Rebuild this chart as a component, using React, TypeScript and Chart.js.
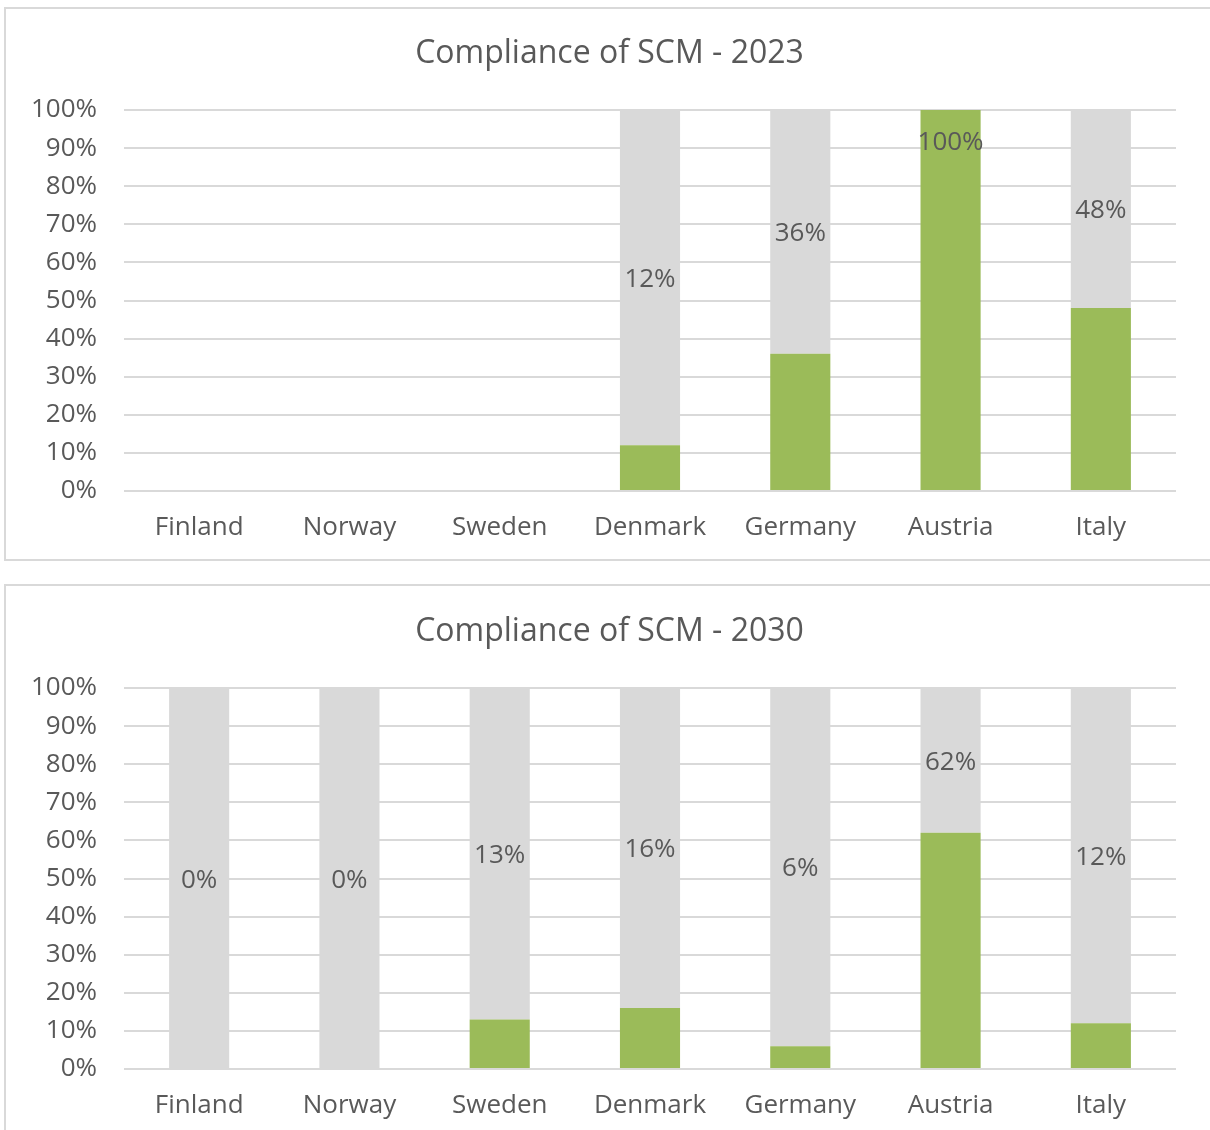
import React, { useEffect, useRef } from "react";
import { Chart, registerables } from "chart.js";

Chart.register(...registerables);

const categories = ["Finland", "Norway", "Sweden", "Denmark", "Germany", "Austria", "Italy"];
const compliance2023: (number | null)[] = [null, null, null, 12, 36, 100, 48];
const compliance2030: (number | null)[] = [0, 0, 13, 16, 6, 62, 12];
const yTicks = [0, 10, 20, 30, 40, 50, 60, 70, 80, 90, 100];

const GREEN = "#9BBB59";
const GRAY = "#D9D9D9";
const TEXT = "#595959";
const FONT = "'Open Sans', 'Noto Sans', sans-serif";

const labelPlugin = {
  id: "segLabels",
  afterDatasetsDraw(chart: any) {
    const ctx = chart.ctx;
    const values: (number | null)[] = chart.data.datasets[0].data;
    const meta = chart.getDatasetMeta(0);
    const yScale = chart.scales.y;
    const top = yScale.getPixelForValue(100);
    ctx.save();
    ctx.font = `26px ${FONT}`;
    ctx.fillStyle = TEXT;
    ctx.textAlign = "center";
    ctx.textBaseline = "middle";
    values.forEach((v, i) => {
      if (v === null || v === undefined) return;
      const el = meta.data[i];
      const vy = yScale.getPixelForValue(v);
      let y = (vy + top) / 2 + 2;
      if (vy - top < 20) y = vy + 33;
      ctx.fillText(`${v}%`, el.x, y);
    });
    ctx.restore();
  },
};

const titlePlugin = {
  id: "fixedTitle",
  afterDraw(chart: any) {
    const opts = chart.options.plugins.fixedTitle;
    const ctx = chart.ctx;
    ctx.save();
    ctx.font = `32px ${FONT}`;
    ctx.fillStyle = TEXT;
    ctx.textAlign = "center";
    ctx.textBaseline = "middle";
    ctx.fillText(opts.text, chart.width / 2 + 2, opts.y);
    ctx.restore();
  },
};

function makeConfig(title: string, values: (number | null)[], titleY: number, areaTop: number, xHeight: number) {
  const rest = values.map((v) => (v === null ? null : 100 - v));
  return {
    type: "bar" as const,
    data: {
      labels: categories,
      datasets: [
        { label: "Compliant", data: values, backgroundColor: GREEN, borderWidth: 0 },
        { label: "Remaining", data: rest, backgroundColor: GRAY, borderWidth: 0 },
      ],
    },
    options: {
      responsive: false,
      animation: false as const,
      devicePixelRatio: 1,
      layout: { padding: { left: 0, right: 34, top: areaTop, bottom: 0 } },
      datasets: { bar: { categoryPercentage: 1, barPercentage: 0.4 } },
      plugins: {
        legend: { display: false },
        tooltip: { enabled: false },
        title: { display: false },
        fixedTitle: { text: title, y: titleY },
      },
      scales: {
        x: {
          stacked: true,
          grid: { display: false, drawTicks: false },
          border: { display: false },
          ticks: { color: TEXT, font: { family: FONT, size: 26 }, padding: 21, maxRotation: 0 },
          afterFit(scale: any) {
            scale.height = xHeight;
          },
        },
        y: {
          stacked: true,
          min: 0,
          max: 100,
          afterBuildTicks(scale: any) {
            scale.ticks = yTicks.map((v) => ({ value: v }));
          },
          grid: { color: GRAY, lineWidth: 2, drawTicks: false },
          border: { display: false },
          ticks: {
            color: TEXT,
            font: { family: FONT, size: 26 },
            padding: 27,
            callback: (v: any) => `${v}%`,
          },
          afterFit(scale: any) {
            scale.width = 119;
          },
        },
      },
    },
    plugins: [labelPlugin, titlePlugin],
  };
}

function ChartBox(props: { top: number; height: number; title: string; values: (number | null)[]; titleY: number; areaTop: number; xHeight: number }) {
  const ref = useRef<HTMLCanvasElement | null>(null);
  useEffect(() => {
    if (!ref.current) return;
    const chart = new Chart(ref.current, makeConfig(props.title, props.values, props.titleY, props.areaTop, props.xHeight) as any);
    return () => chart.destroy();
  }, []);
  return (
    <>
      <div
        style={{
          position: "absolute",
          left: 4,
          top: props.top - 1,
          width: 1220,
          height: props.height,
          border: `2px solid ${GRAY}`,
          boxSizing: "border-box",
        }}
      />
      <canvas
        ref={ref}
        width={1205}
        height={props.height}
        style={{ position: "absolute", left: 5, top: props.top, width: 1205, height: props.height }}
      />
    </>
  );
}

export default function App() {
  return (
    <div style={{ position: "absolute", left: 0, top: 0, width: 1210, height: 1130, overflow: "hidden", background: "#fff" }}>
      <ChartBox top={8} height={554} title="Compliance of SCM - 2023" values={compliance2023} titleY={46} areaTop={102} xHeight={71} />
      <ChartBox top={585} height={560} title="Compliance of SCM - 2030" values={compliance2030} titleY={47} areaTop={103} xHeight={76} />
    </div>
  );
}
